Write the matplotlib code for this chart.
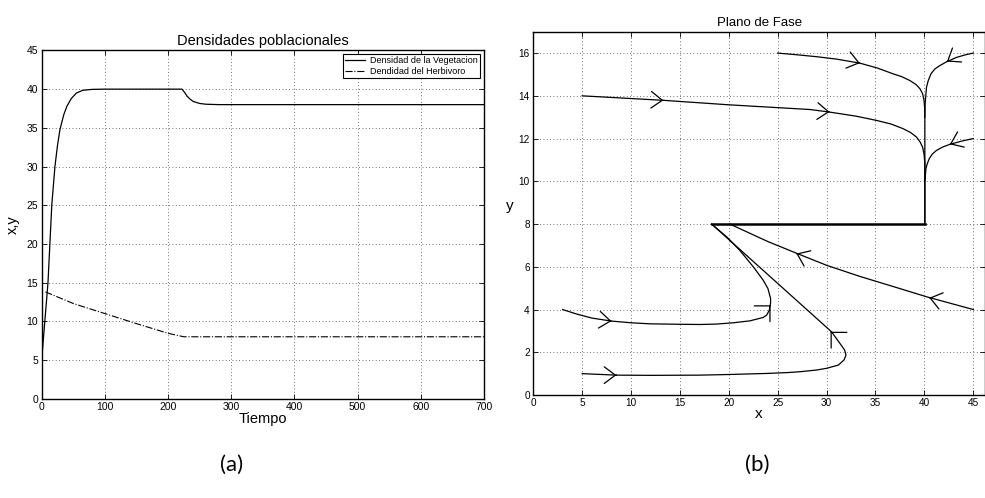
import numpy as np
import matplotlib
matplotlib.use('Agg')
import matplotlib.pyplot as plt

plt.rcParams['font.family'] = ['Liberation Sans', 'DejaVu Sans']

# (a) densidades poblacionales
t_veg = [0, 5, 10, 13, 16, 21, 25, 29, 35, 40, 47, 55, 65, 80, 100, 222, 226, 230, 235, 240, 250, 260, 280, 700]
veg = [5, 10, 15, 20, 25, 30, 32.7, 34.8, 36.7, 37.8, 38.8, 39.5, 39.85, 39.97, 40, 40, 39.6, 39.1, 38.7, 38.4, 38.15, 38.05, 38, 38]
t_herb = [6, 50, 100, 150, 200, 225, 700]
herb = [13.8, 12.3, 11.0, 9.7, 8.45, 8.0, 8.0]

# (b) plano de fase - trayectorias
tray = [
    # desde (25,16)
    ([25, 27, 29, 31, 33.4, 35.2, 36.8, 37.67, 38.5, 39.14, 39.55, 39.82, 39.96, 40.02, 40.05, 40.05],
     [16, 15.92, 15.83, 15.72, 15.53, 15.3, 15.03, 14.9, 14.72, 14.53, 14.33, 14.1, 13.79, 13.47, 13.0, 8.0]),
    # desde (45,16)
    ([45, 44.2, 43.3, 42.3, 41.6, 41.08, 40.67, 40.4, 40.22, 40.16, 40.08, 40.05],
     [16, 15.92, 15.8, 15.6, 15.42, 15.26, 15.03, 14.72, 14.41, 14.1, 13.63, 13.0]),
    # desde (5,14)
    ([5, 13.3, 20, 28.3, 30.3, 33, 35.1, 36.6, 37.84, 38.6, 39.2, 39.55, 39.82, 39.97, 40.05, 40.05, 40.05],
     [14, 13.79, 13.58, 13.36, 13.24, 13.05, 12.85, 12.68, 12.46, 12.28, 12.07, 11.85, 11.6, 11.25, 10.83, 10.4, 8.0]),
    # desde (45,12)
    ([45, 43.8, 42.6, 41.85, 41.25, 40.8, 40.5, 40.3, 40.16, 40.06],
     [12, 11.88, 11.73, 11.6, 11.45, 11.27, 11.06, 10.83, 10.59, 10.05]),
    # desde (45,4)
    ([45, 43, 40.2, 37, 33.4, 30, 27, 24, 22, 20.1],
     [4.0, 4.25, 4.6, 5.05, 5.55, 6.07, 6.62, 7.18, 7.6, 8.0]),
    # desde (3,4)
    ([3, 4.5, 6, 8, 10, 12, 15, 17.05, 18.75, 20.45, 22.16, 23.52, 23.87, 24.14, 24.27, 24.27, 24.0, 23.52, 22.5, 21.1, 19.78, 18.24],
     [4, 3.78, 3.6, 3.46, 3.38, 3.33, 3.31, 3.3, 3.32, 3.38, 3.47, 3.63, 3.74, 3.97, 4.3, 4.52, 4.98, 5.37, 6.0, 6.78, 7.4, 8.0]),
    # desde (5,1)
    ([5, 8.5, 12, 17, 20, 23.9, 26, 27.3, 28.98, 30.0, 31.2, 31.78, 31.98, 31.85, 31.37, 30.5, 18.24],
     [1.0, 0.93, 0.92, 0.93, 0.96, 1.01, 1.05, 1.09, 1.17, 1.25, 1.4, 1.64, 1.87, 2.1, 2.41, 2.96, 8.0]),
]
linea_y8 = ([18.24, 40.05], [8, 8])

# flechas: posicion, direccion (en datos) y abertura
flecha_x = [13.3, 30.3, 33.4, 42.3, 42.6, 40.5, 26.9, 8.0, 8.5, 24.27, 30.4]
flecha_y = [13.79, 13.25, 15.53, 15.6, 11.73, 4.55, 6.62, 3.46, 0.93, 4.2, 2.96]
flecha_dx = [1, 1, 1, -1, -1, -1, -1, 1, 1, 1, -1]
flecha_dy = [-0.02, -0.03, -0.12, -0.3, -0.2, 0.12, 0.2, -0.05, 0, 0.457, 0.457]
flecha_ancho = [0.6, 0.6, 0.6, 0.6, 0.6, 0.6, 0.6, 0.6, 0.6, 0.8, 0.8]

fig = plt.figure(figsize=(9.85, 4.98), dpi=100)

def estilo(ax, fs):
    ax.tick_params(direction='in', top=True, right=True, length=3.5, width=0.6,
                   labelsize=fs, pad=2.5)
    ax.grid(True, linestyle=(0, (1, 3)), color='#444444', linewidth=0.6)
    for s in ax.spines.values():
        s.set_linewidth(1.0)

ax1 = fig.add_axes([0.0423, 0.1994, 0.4491, 0.6993])
ax1.plot(t_veg, veg, 'k-', lw=0.9, label='Densidad de la Vegetacion')
ax1.plot(t_herb, herb, 'k-.', lw=0.8, label='Dendidad del Herbivoro')
ax1.set_xlim(0, 700)
ax1.set_ylim(0, 45)
ax1.set_xticks(range(0, 701, 100))
ax1.set_yticks(range(0, 46, 5))
estilo(ax1, 7.5)
ax1.set_title('Densidades poblacionales', fontsize=10.5, pad=4)
ax1.set_xlabel('Tiempo', fontsize=10.5, labelpad=0)
ax1.set_ylabel('x,y', fontsize=10.5, labelpad=5)
leg = ax1.legend(loc='upper right', fontsize=6.5, fancybox=False, edgecolor='k',
                 framealpha=1, handlelength=2.2, borderpad=0.25, labelspacing=0.15,
                 borderaxespad=0.4, handletextpad=0.6)
leg.get_frame().set_linewidth(0.8)

ax2 = fig.add_axes([0.5414, 0.2068, 0.4586, 0.7295])
for xs, ys in tray:
    ax2.plot(xs, ys, 'k-', lw=0.9)
ax2.plot(linea_y8[0], linea_y8[1], 'k-', lw=1.8)
for x, y, dx, dy, w in zip(flecha_x, flecha_y, flecha_dx, flecha_dy, flecha_ancho):
    ax2.annotate('', xy=(x, y), xytext=(x - 0.02 * dx, y - 0.02 * dy),
                 arrowprops=dict(arrowstyle='->,head_length=0.8,head_width=%s' % w,
                                 color='k', lw=0.9, mutation_scale=10,
                                 shrinkA=0, shrinkB=0))
ax2.set_xlim(0, 46.2)
ax2.set_ylim(0, 17)
ax2.set_xticks(range(0, 46, 5))
ax2.set_yticks(range(0, 17, 2))
estilo(ax2, 7.2)
ax2.set_title('Plano de Fase', fontsize=9.5, pad=4)
ax2.set_xlabel('x', fontsize=11, labelpad=-1)
ax2.set_ylabel('y', fontsize=11, rotation=0, labelpad=6)

fig.text(0.2355, 0.066, '(a)', fontsize=16, family='Lato', ha='center', va='center')
fig.text(0.7685, 0.066, '(b)', fontsize=16, family='Lato', ha='center', va='center')

fig.savefig('out.png', dpi=100)
